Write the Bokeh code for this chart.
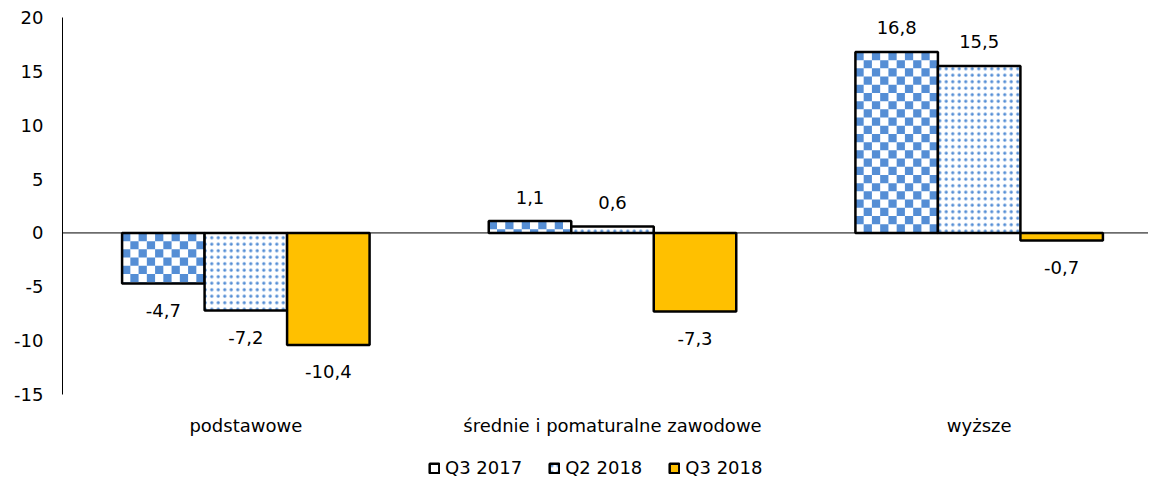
import math
from bokeh.plotting import figure
from bokeh.models import (ColumnDataSource, Range1d, FixedTicker, Span, Legend,
                          LegendItem)
from bokeh.embed import file_html
from bokeh.resources import INLINE

categories = ["podstawowe", "średnie i pomaturalne zawodowe", "wyższe"]
series_names = ["Q3 2017", "Q2 2018", "Q3 2018"]
q3_2017 = [-4.7, 1.1, 16.8]
q2_2018 = [-7.2, 0.6, 15.5]
q3_2018 = [-10.4, -7.3, -0.7]
y_ticks = [-15, -10, -5, 0, 5, 10, 15, 20]
y_tick_labels = ["-15", "-10", "-5", "0", "5", "10", "15", "20"]
y_min, y_max = -15, 20

FONT = "DejaVu Sans"
BLUE = "#558ED5"
GOLD = "#FFC000"
BAR_W = 0.225

W, H = 1148, 479
LEFT, TOP = 62, 17
AXIS_BOTTOM_PX = 394          # pixel row of y = -15
CAT_PX = 1100.0 / 3           # pixel width of one category
px_per_unit = (AXIS_BOTTOM_PX - TOP) / float(y_max - y_min)
y_start = y_min - (H - AXIS_BOTTOM_PX) / px_per_unit
x_end = (W - LEFT) / CAT_PX

p = figure(width=W, height=H, output_backend="svg", toolbar_location=None,
           x_range=Range1d(0, x_end), y_range=Range1d(y_start, y_max),
           min_border_left=LEFT, min_border_right=0, min_border_top=TOP,
           min_border_bottom=0)
p.outline_line_color = None
p.xgrid.visible = False
p.ygrid.visible = False
p.xaxis.visible = False
p.background_fill_color = "white"
p.border_fill_color = "white"

all_series = [q3_2017, q2_2018, q3_2018]
centers = [i + 0.5 for i in range(len(categories))]

def xs_for(k):
    return [c + (k - 1) * BAR_W for c in centers]

# zero line
p.add_layout(Span(location=0, dimension="width", line_color="black",
                  line_width=1, level="underlay"))

# series 1: white fill + checker cells + outline
src1 = ColumnDataSource(dict(x=xs_for(0), top=q3_2017))
r1_fill = p.vbar(x="x", top="top", bottom=0, width=BAR_W, source=src1,
                 fill_color="white", line_color=None)
cell_h = 8.2 / px_per_unit
ncols = 10
L, R, T, B = [], [], [], []
for x, v in zip(xs_for(0), q3_2017):
    top, bot = max(v, 0), min(v, 0)
    nrows = int(math.ceil((top - bot) / cell_h - 1e-9))
    left0 = x - BAR_W / 2
    cw = BAR_W / ncols
    for r in range(nrows):
        y1 = top - r * cell_h
        y0 = max(y1 - cell_h, bot)
        for c in range(ncols):
            if (r + c) % 2 == 0:
                L.append(left0 + c * cw)
                R.append(left0 + (c + 1) * cw)
                T.append(y1)
                B.append(y0)
p.quad(left=L, right=R, top=T, bottom=B, fill_color=BLUE, line_color=None)
r1_line = p.vbar(x="x", top="top", bottom=0, width=BAR_W, source=src1,
                 fill_color=None, line_color="black", line_width=2.5)

# series 2: dotted
src2 = ColumnDataSource(dict(x=xs_for(1), top=q2_2018))
r2 = p.vbar(x="x", top="top", bottom=0, width=BAR_W, source=src2,
            fill_color="white", line_color="black", line_width=2.5,
            hatch_pattern="dot", hatch_color=BLUE, hatch_scale=6.5,
            hatch_weight=1.5)

# series 3: gold
src3 = ColumnDataSource(dict(x=xs_for(2), top=q3_2018))
r3 = p.vbar(x="x", top="top", bottom=0, width=BAR_W, source=src3,
            fill_color=GOLD, line_color="black", line_width=2.5)

# value labels
lx, ly, lt, loff = [], [], [], []
for k, s in enumerate(all_series):
    for x, v in zip(xs_for(k), s):
        lx.append(x)
        ly.append(v)
        lt.append(f"{v:.1f}".replace(".", ","))
        loff.append(-24 if v >= 0 else 27)
lsrc = ColumnDataSource(dict(x=lx, y=ly, t=lt, off=loff))
p.text(x="x", y="y", text="t", y_offset="off", source=lsrc,
       text_align="center", text_baseline="middle", text_font_size="18px",
       text_font={"value": FONT}, text_color="#000000")

# category labels (below the value axis end)
csrc = ColumnDataSource(dict(x=centers, y=[y_min] * len(centers), t=categories))
p.text(x="x", y="y", text="t", y_offset=31, source=csrc,
       text_align="center", text_baseline="middle", text_font_size="18px",
       text_font={"value": FONT}, text_color="#000000")

# y axis
p.yaxis.bounds = (y_min, y_max)
p.yaxis.ticker = FixedTicker(ticks=y_ticks)
p.yaxis.major_label_overrides = {t: l for t, l in zip(y_ticks, y_tick_labels)}
p.yaxis.major_tick_out = 0
p.yaxis.major_tick_in = 0
p.yaxis.minor_tick_out = 0
p.yaxis.minor_tick_in = 0
p.yaxis.axis_line_color = "black"
p.yaxis.axis_line_width = 1
p.yaxis.major_label_standoff = 19
p.yaxis.major_label_text_font = FONT
p.yaxis.major_label_text_font_size = "18px"
p.yaxis.major_label_text_color = "#000000"

legend = Legend(items=[
    LegendItem(label=series_names[0], renderers=[r1_fill, r1_line]),
    LegendItem(label=series_names[1], renderers=[r2]),
    LegendItem(label=series_names[2], renderers=[r3]),
], orientation="horizontal", location=(366, 1),
    label_text_font=FONT, label_text_font_size="18px",
    label_text_color="#000000", glyph_width=12, glyph_height=12,
    label_standoff=5, spacing=26, padding=4, margin=0,
    border_line_color=None, background_fill_alpha=0)
p.add_layout(legend, "center")

open("out.html", "w").write(file_html(p, INLINE))
